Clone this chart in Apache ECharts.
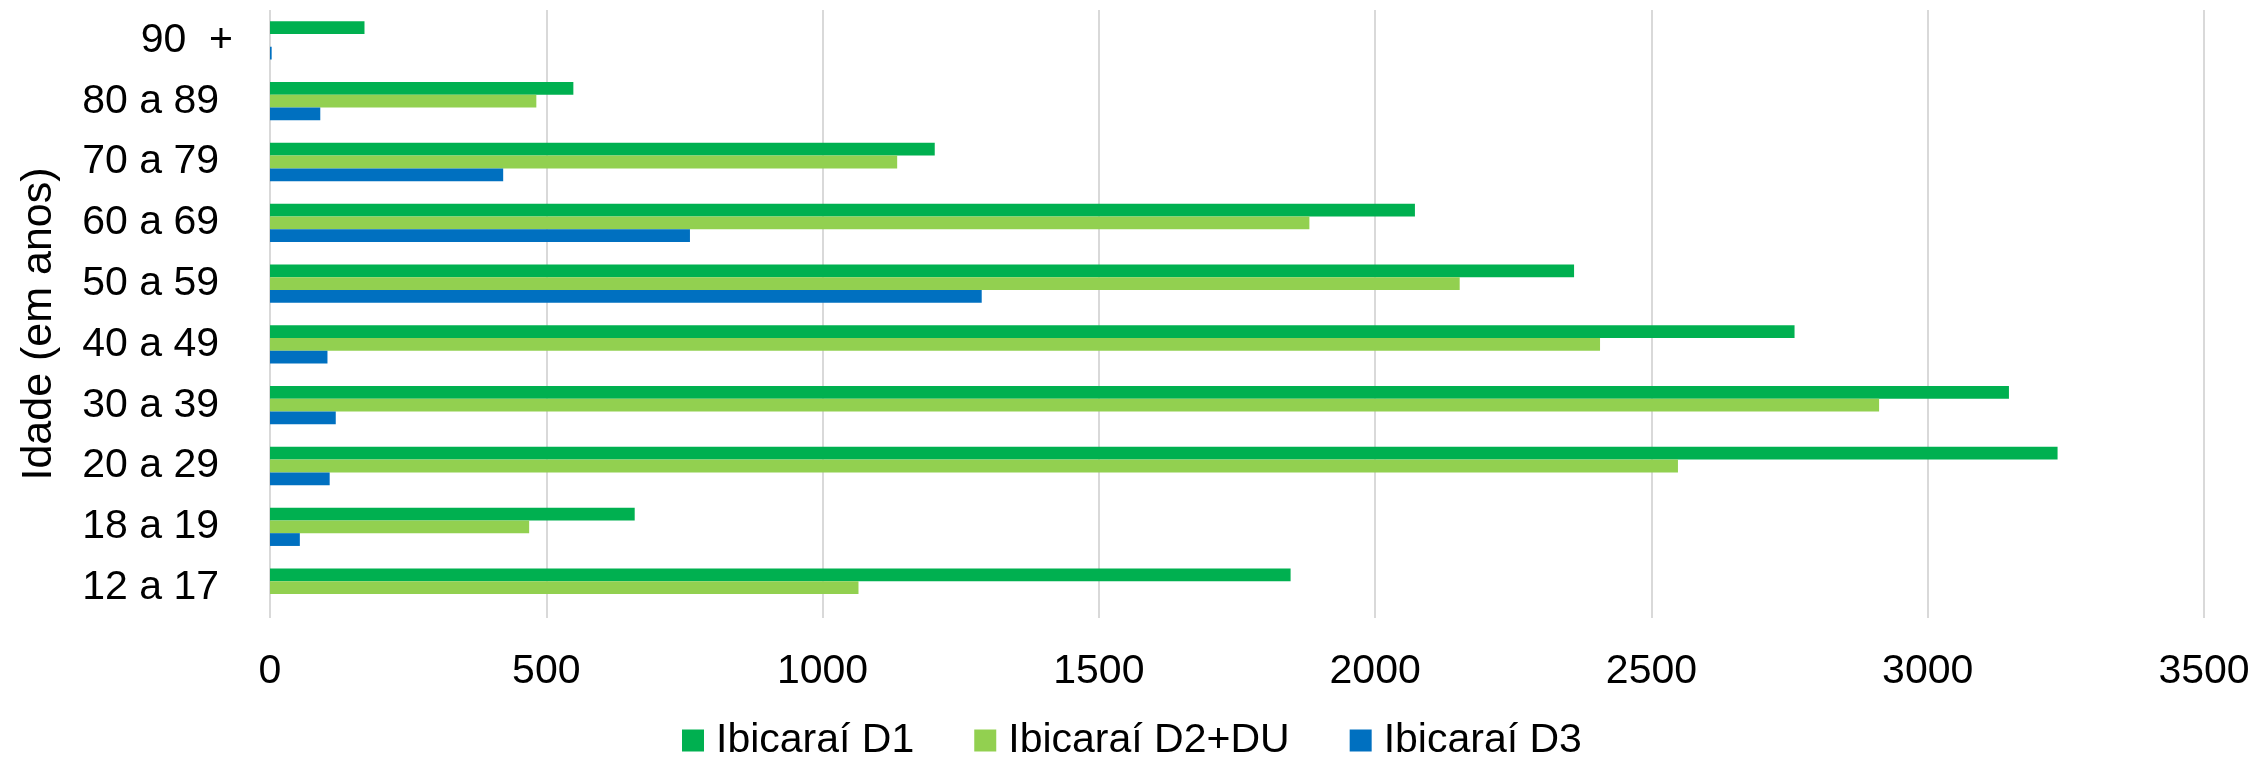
<!DOCTYPE html>
<html><head><meta charset="utf-8">
<script src="https://cdn.jsdelivr.net/npm/echarts@6/dist/echarts.min.js"></script>
<style>html,body{margin:0;padding:0;background:#fff}#c{width:2259px;height:759px}</style>
</head><body><div id="c"></div>
<script>
const categories = ['12 a 17','18 a 19','20 a 29','30 a 39','40 a 49','50 a 59','60 a 69','70 a 79','80 a 89','90  +'];
const seriesNames = ['Ibicaraí D1','Ibicaraí D2+DU','Ibicaraí D3'];
const d1 = [1847, 660, 3235, 3147, 2759, 2360, 2072, 1203, 549, 171];
const d2 = [1065, 469, 2548, 2912, 2407, 2153, 1881, 1135, 482, 0];
const d3 = [0, 54, 108, 119, 104, 1288, 760, 422, 91, 3];
const xTicks = {min: 0, max: 3500, interval: 500};
const colors = ['#00B050', '#92D050', '#0070C0'];

const font = 'Liberation Sans, Arial, sans-serif';
const chart = echarts.init(document.getElementById('c'));
const values = [d1, d2, d3];
const series = [0,1,2].map(i => ({
  name: seriesNames[i], type: 'bar', data: values[i],
  itemStyle: {color: colors[i]}, barGap: '0%', barCategoryGap: '37%'
}));
const yData = categories.map(c => c === '90  +'
  ? {value: c, textStyle: {padding: [0, -14, 0, 0]}}
  : c);
chart.setOption({
  animation: false,
  grid: {left: 270, right: 55, top: 10, bottom: 141, containLabel: false},
  legend: {
    data: seriesNames, top: 715, left: 677,
    itemWidth: 22, itemHeight: 22, itemGap: 60,
    icon: 'rect',
    textStyle: {fontFamily: font, fontSize: 41, color: '#000', padding: [0,0,0,7]}
  },
  xAxis: {
    type: 'value', min: xTicks.min, max: xTicks.max, interval: xTicks.interval,
    axisLine: {show: false}, axisTick: {show: false},
    splitLine: {show: true, lineStyle: {color: '#d9d9d9', width: 2}},
    axisLabel: {fontFamily: font, fontSize: 41, color: '#000', margin: 33,
      formatter: v => String(v)}
  },
  yAxis: {
    type: 'category', data: yData,
    name: 'Idade (em anos)', nameLocation: 'middle', nameGap: 209,
    nameTextStyle: {fontFamily: font, fontSize: 43, color: '#000', padding: [0, 20, 0, 0]},
    axisLine: {show: false}, axisTick: {show: false},
    axisLabel: {fontFamily: font, fontSize: 41, color: '#000', margin: 51}
  },
  series: series
});
</script></body></html>
